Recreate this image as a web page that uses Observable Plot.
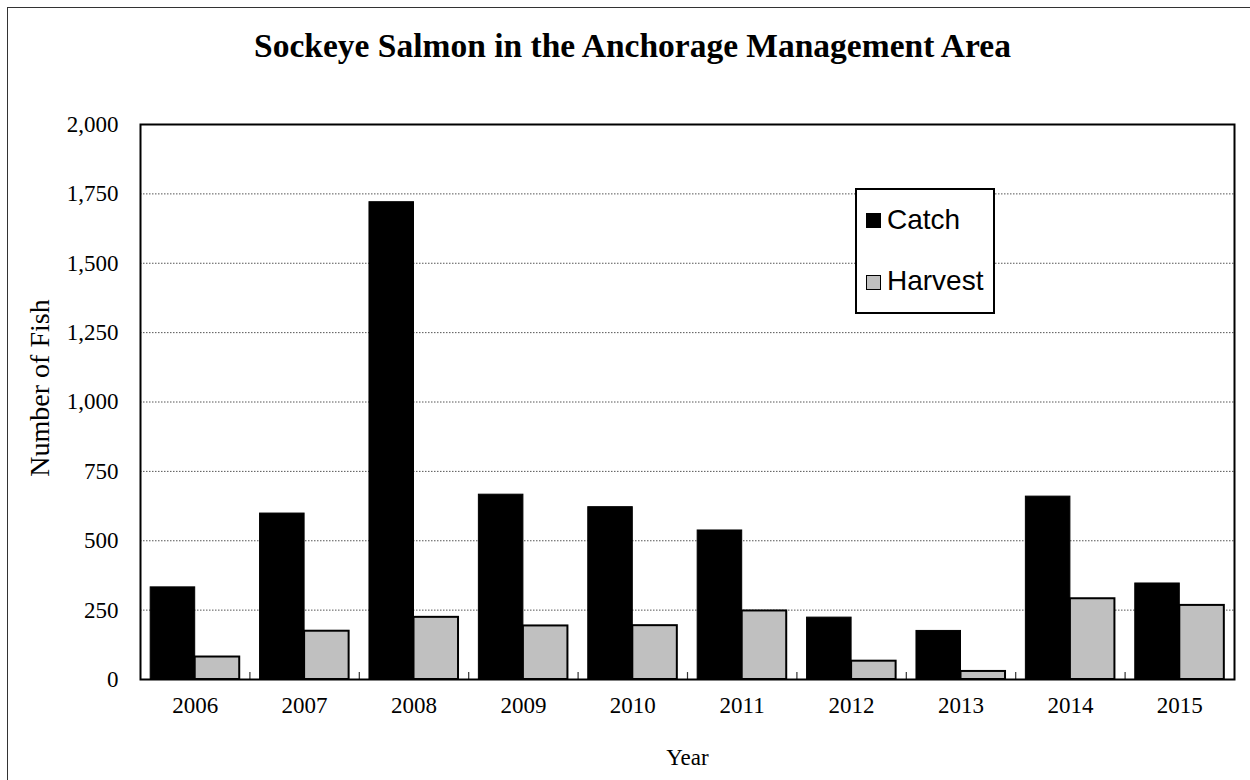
<!DOCTYPE html>
<html>
<head>
<meta charset="utf-8">
<script src="https://cdn.jsdelivr.net/npm/d3@7"></script>
<script src="https://cdn.jsdelivr.net/npm/@observablehq/plot@0.6"></script>
<style>
  html, body { margin: 0; padding: 0; background: #fff; }
  #wrap { position: relative; width: 1250px; height: 780px; overflow: hidden; background: #fff; }
  #outer { position: absolute; z-index: 5; left: 7px; top: 7px; width: 1260px; height: 800px; border-left: 1.5px solid #333; border-top: 1.5px solid #333; pointer-events: none; }
  #title { position: absolute; left: 0; top: 28.5px; width: 1235px; padding-left: 15px; text-align: center;
           font-family: "Liberation Serif", "Times New Roman", serif; font-weight: bold; font-size: 33.5px; line-height: 34px; color: #000; margin: 0; }
  #chart { position: absolute; left: 0; top: 100px; }
  #legend { position: absolute; left: 855px; top: 188px; width: 136px; height: 122px; border: 2px solid #000; background: #fff; }
  .lg-sw { position: absolute; width: 13px; height: 13px; }
  .lg-tx { position: absolute; font-family: "Liberation Sans", Arial, sans-serif; font-size: 28px; line-height: 28px; color: #000; white-space: nowrap; }
</style>
</head>
<body>
<div id="wrap">
  <div id="title"></div>
  <div id="chart"></div>
  <div id="legend"></div>
  <div id="outer"></div>
</div>
<script>
const titleText = "Sockeye Salmon in the Anchorage Management Area";
const yLabel = "Number of Fish";
const xLabel = "Year";
const seriesNames = ["Catch", "Harvest"];
const years = [2006, 2007, 2008, 2009, 2010, 2011, 2012, 2013, 2014, 2015];
const catchValues = [332, 598, 1720, 666, 621, 537, 223, 175, 659, 346];
const harvestValues = [81, 174, 224, 193, 194, 247, 66, 29, 291, 267];
const yTicks = [0, 250, 500, 750, 1000, 1250, 1500, 1750, 2000];

const rows = years.map((year, i) => ({year, catch: catchValues[i], harvest: harvestValues[i]}));
const gridValues = yTicks.slice(1, -1);
const boundaries = years.slice(1).map(y => y - 0.5);

const width = 1250, height = 680;
const marginLeft = 140, marginRight = 16, marginTop = 24, marginBottom = 101;
const bw = (width - marginLeft - marginRight) / years.length;
const pad = bw * 0.093;

document.getElementById("title").textContent = titleText;

const chart = Plot.plot({
  width, height, marginLeft, marginRight, marginTop, marginBottom,
  style: {fontFamily: "'Liberation Serif', 'Times New Roman', serif", fontSize: "23px", color: "#000", background: "transparent"},
  x: {type: "linear", domain: [years[0] - 0.5, years[years.length - 1] + 0.5], ticks: years, tickSize: 0, tickPadding: 17, tickFormat: d => String(d), label: null},
  y: {domain: [yTicks[0], yTicks[yTicks.length - 1]], ticks: yTicks, tickSize: 0, tickPadding: 22, tickFormat: d3.format(","), label: null},
  marks: [
    Plot.ruleY(gridValues, {stroke: "#555", strokeWidth: 1, strokeDasharray: "1.5,1.5"}),
    Plot.rectY(rows, {x1: d => d.year - 0.5, x2: d => d.year + 0.5, y1: 0, y2: "catch", insetLeft: pad, insetRight: bw / 2, fill: "#000", stroke: "#000", strokeWidth: 1}),
    Plot.rectY(rows, {x1: d => d.year - 0.5, x2: d => d.year + 0.5, y1: 0, y2: "harvest", insetLeft: bw / 2, insetRight: pad, fill: "#c0c0c0", stroke: "#000", strokeWidth: 2}),
    Plot.ruleX(boundaries, {y1: 0, y2: 25, stroke: "#333", strokeWidth: 1.2}),
    Plot.frame({stroke: "#000", strokeWidth: 2}),
    Plot.text([yLabel], {text: d => d, frameAnchor: "left", textAnchor: "middle", rotate: -90, dx: -92, dy: -14, lineAnchor: "bottom", fontSize: 28, fill: "#000"}),
    Plot.text([xLabel], {text: d => d, frameAnchor: "bottom", textAnchor: "middle", dy: 85, lineAnchor: "bottom", fontSize: 23, fill: "#000"})
  ]
});
document.getElementById("chart").appendChild(chart);

// legend
const legend = document.getElementById("legend");
const legendItems = [
  {name: seriesNames[0], fill: "#000", border: "#000", top: 23, textTop: 16},
  {name: seriesNames[1], fill: "#c0c0c0", border: "#000", top: 85, textTop: 77}
];
legendItems.forEach(it => {
  const sw = document.createElement("div");
  sw.className = "lg-sw";
  sw.style.left = "9px";
  sw.style.top = it.top + "px";
  sw.style.background = it.fill;
  sw.style.border = "1.5px solid " + it.border;
  legend.appendChild(sw);
  const tx = document.createElement("div");
  tx.className = "lg-tx";
  tx.style.left = "30px";
  tx.style.top = it.textTop + "px";
  tx.textContent = it.name;
  legend.appendChild(tx);
});
</script>
</body>
</html>
